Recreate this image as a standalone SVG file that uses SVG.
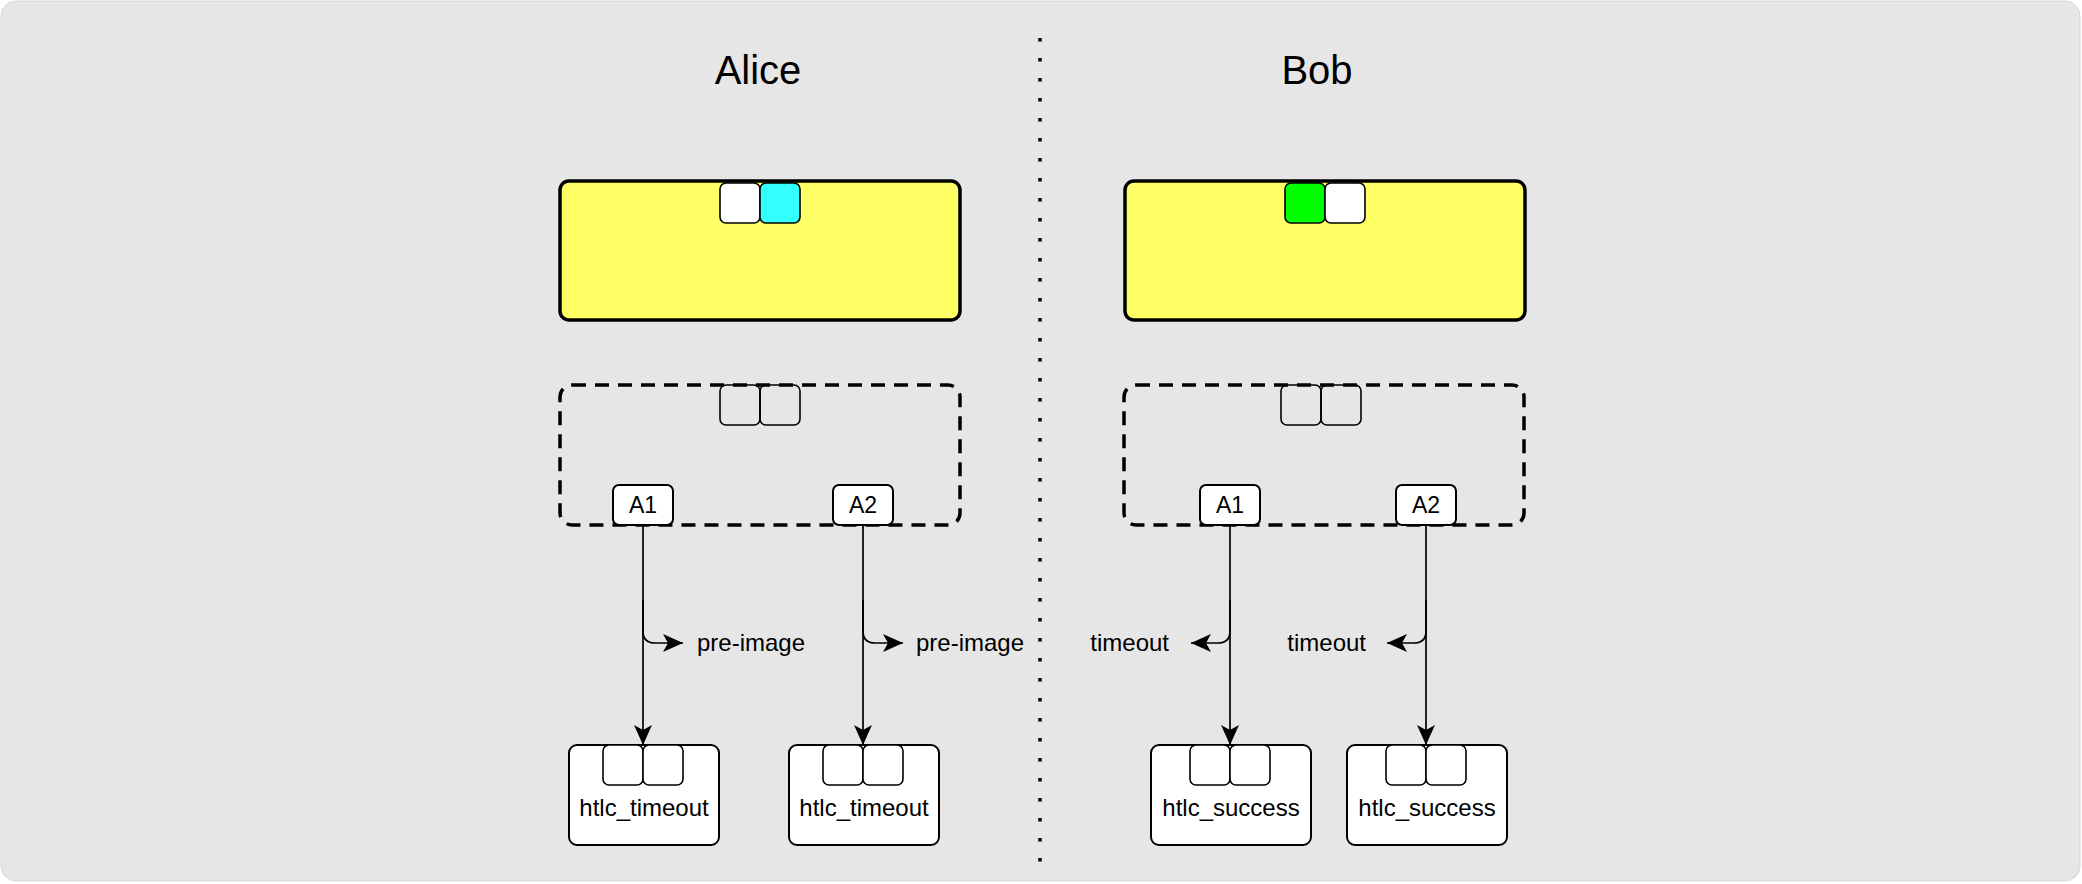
<svg xmlns="http://www.w3.org/2000/svg" width="2082" height="884" viewBox="0 0 2082 884">
<defs>
<style>
.bg{fill:#e6e6e6;stroke:#d6d6d6;stroke-width:1}
.yellow{fill:#ffff66;stroke:#000;stroke-width:3.5}
.dashed{fill:none;stroke:#000;stroke-width:3.5;stroke-dasharray:14 9}
.sq{stroke:#000;stroke-width:1.6}
.w{fill:#fff}
.c{fill:#33ffff}
.g{fill:#00ff00}
.t{fill:none}
.box{fill:#fff;stroke:#000;stroke-width:2}
.title{font-family:"Liberation Sans",Arial,sans-serif;font-size:40px;fill:#000;text-anchor:middle}
.lbl{font-family:"Liberation Sans",Arial,sans-serif;font-size:24px;fill:#000}
.mid{text-anchor:middle}
.end{text-anchor:end}
.a{font-family:"Liberation Sans",Arial,sans-serif;font-size:23px;fill:#000;text-anchor:middle}
.edge{fill:none;stroke:#000;stroke-width:1.7}
.divider{fill:none;stroke:#000;stroke-width:3.5;stroke-dasharray:3.5 16.5}
</style>
<marker id="arr" markerUnits="userSpaceOnUse" markerWidth="20" markerHeight="18" refX="20" refY="9" orient="auto" viewBox="0 0 20 18">
<path d="M0,0 L20,9 L0,18 L5,9 Z" fill="#000"/>
</marker>
</defs>
<rect class="bg" x="1" y="1" width="2079" height="880" rx="15"/>
<g id="divider"><line class="divider" x1="1040" y1="38" x2="1040" y2="862"/></g>
<g id="title-alice"><text class="title" x="758" y="84">Alice</text></g>
<g id="title-bob"><text class="title" x="1317" y="84">Bob</text></g>

<g id="alice-commit">
<rect class="yellow" x="560" y="181" width="400" height="139" rx="9"/>
<rect class="sq w" x="720" y="183" width="40" height="40" rx="6"/>
<rect class="sq c" x="760" y="183" width="40" height="40" rx="6"/>
</g>
<g id="bob-commit">
<rect class="yellow" x="1125" y="181" width="400" height="139" rx="9"/>
<rect class="sq g" x="1285" y="183" width="40" height="40" rx="6"/>
<rect class="sq w" x="1325" y="183" width="40" height="40" rx="6"/>
</g>

<g id="alice-remote">
<rect class="dashed" x="560" y="385" width="400" height="140" rx="12"/>
<rect class="sq t" x="720" y="385" width="40" height="40" rx="6"/>
<rect class="sq t" x="760" y="385" width="40" height="40" rx="6"/>
</g>
<g id="bob-remote">
<rect class="dashed" x="1124" y="385" width="400" height="140" rx="12"/>
<rect class="sq t" x="1281" y="385" width="40" height="40" rx="6"/>
<rect class="sq t" x="1321" y="385" width="40" height="40" rx="6"/>
</g>

<g id="connectors">
<path class="edge" d="M643,525 L643,745" marker-end="url(#arr)"/>
<path class="edge" d="M643,600 L643,631 Q643,643 655,643 L683,643" marker-end="url(#arr)"/>
<path class="edge" d="M863,525 L863,745" marker-end="url(#arr)"/>
<path class="edge" d="M863,600 L863,631 Q863,643 875,643 L903,643" marker-end="url(#arr)"/>
<path class="edge" d="M1230,525 L1230,745" marker-end="url(#arr)"/>
<path class="edge" d="M1230,600 L1230,631 Q1230,643 1218,643 L1191,643" marker-end="url(#arr)"/>
<path class="edge" d="M1426,525 L1426,745" marker-end="url(#arr)"/>
<path class="edge" d="M1426,600 L1426,631 Q1426,643 1414,643 L1387,643" marker-end="url(#arr)"/>
</g>

<g id="alice-a1"><rect class="box" x="613" y="485" width="60" height="40" rx="6"/><text class="a" x="643" y="513">A1</text></g>
<g id="alice-a2"><rect class="box" x="833" y="485" width="60" height="40" rx="6"/><text class="a" x="863" y="513">A2</text></g>
<g id="bob-a1"><rect class="box" x="1200" y="485" width="60" height="40" rx="6"/><text class="a" x="1230" y="513">A1</text></g>
<g id="bob-a2"><rect class="box" x="1396" y="485" width="60" height="40" rx="6"/><text class="a" x="1426" y="513">A2</text></g>

<g id="label-preimage-1"><text class="lbl" x="697" y="651">pre-image</text></g>
<g id="label-preimage-2"><text class="lbl" x="916" y="651">pre-image</text></g>
<g id="label-timeout-1"><text class="lbl end" x="1169" y="651">timeout</text></g>
<g id="label-timeout-2"><text class="lbl end" x="1366" y="651">timeout</text></g>

<g id="alice-htlc-timeout-1">
<rect class="box" x="569" y="745" width="150" height="100" rx="8"/>
<rect class="sq w" x="603" y="745" width="40" height="40" rx="6"/>
<rect class="sq w" x="643" y="745" width="40" height="40" rx="6"/>
<text class="lbl mid" x="644" y="816">htlc_timeout</text>
</g>
<g id="alice-htlc-timeout-2">
<rect class="box" x="789" y="745" width="150" height="100" rx="8"/>
<rect class="sq w" x="823" y="745" width="40" height="40" rx="6"/>
<rect class="sq w" x="863" y="745" width="40" height="40" rx="6"/>
<text class="lbl mid" x="864" y="816">htlc_timeout</text>
</g>
<g id="bob-htlc-success-1">
<rect class="box" x="1151" y="745" width="160" height="100" rx="8"/>
<rect class="sq w" x="1190" y="745" width="40" height="40" rx="6"/>
<rect class="sq w" x="1230" y="745" width="40" height="40" rx="6"/>
<text class="lbl mid" x="1231" y="816">htlc_success</text>
</g>
<g id="bob-htlc-success-2">
<rect class="box" x="1347" y="745" width="160" height="100" rx="8"/>
<rect class="sq w" x="1386" y="745" width="40" height="40" rx="6"/>
<rect class="sq w" x="1426" y="745" width="40" height="40" rx="6"/>
<text class="lbl mid" x="1427" y="816">htlc_success</text>
</g>
</svg>
